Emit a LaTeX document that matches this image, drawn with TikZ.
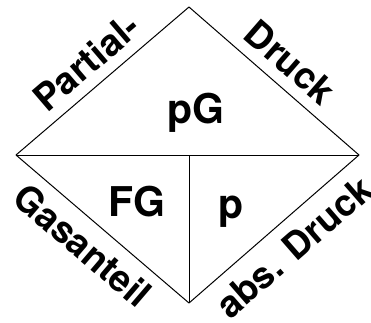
\documentclass[tikz,border=0pt]{standalone}
\usepackage{fontspec}
\setsansfont{TeX Gyre Heros}
\usetikzlibrary{positioning}
\begin{document}
\begin{tikzpicture}[
    x=1pt, y=-1pt,
    % Linien und Schriften
    rim/.style={line width=1pt, line join=round},
    edgelabel/.style={sloped, inner sep=0pt, font=\sffamily\bfseries\fontsize{37}{44}\selectfont},
    quantity/.style={inner sep=0pt, font=\sffamily\bfseries\fontsize{41}{48}\selectfont}
  ]
  \useasboundingbox (0,0) rectangle (371,322);

  % Ecken der Raute
  \coordinate (top) at (189,7);
  \coordinate (left) at (16,155);
  \coordinate (right) at (359,155);
  \coordinate (bottom) at (189,303);
  \coordinate (mid) at (189,155);

  \draw[rim] (top) -- (right) -- (bottom) -- (left) -- cycle;
  \draw[rim] (left) -- (right);
  \draw[rim] (mid) -- (bottom);

  % Groessen
  \node (pG) [quantity] at (196,113) {pG};
  \node (FG) [quantity] at (137,202) {FG};
  \node (p) [quantity, anchor=base] at (231,218) {p};

  % Beschriftung der Kanten
  \path (left) -- node (partial) [edgelabel, above=11pt, pos=0.5] {Partial-} (top);
  \path (top) -- node (druck) [edgelabel, above=11pt, pos=0.5] {Druck} (right);
  \path (left) -- node (gasanteil) [edgelabel, below=11pt, pos=0.48] {Gasanteil} (bottom);
  \path (bottom) -- node (absdruck) [edgelabel, below=13pt, pos=0.515] {abs. Druck} (right);
\end{tikzpicture}
\end{document}
